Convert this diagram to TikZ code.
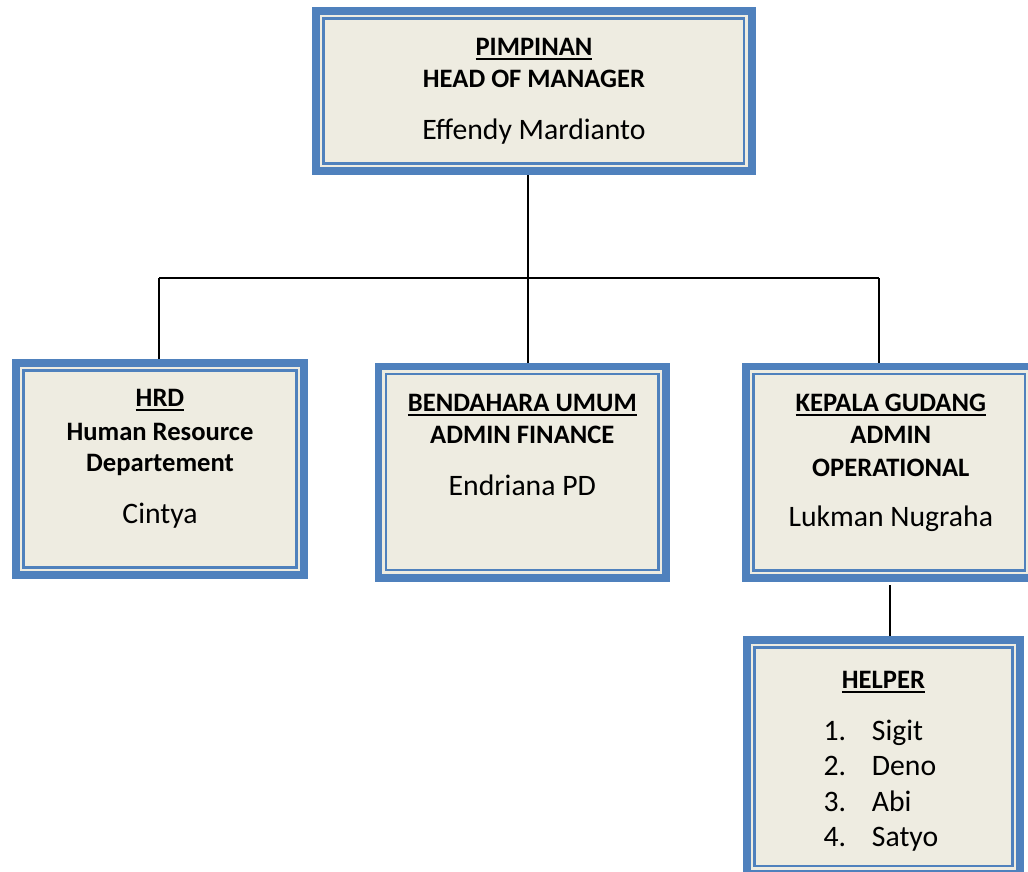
\documentclass[tikz,border=0pt]{standalone}
\usepackage{fontspec}
\setmainfont{Carlito}
\definecolor{bandblue}{HTML}{4F81BD}
\definecolor{cream}{HTML}{EEECE1}
\newcommand\ulhead[1]{\setbox0\hbox{#1}\rlap{\rule[-4.5pt]{\wd0}{2pt}}\box0}
\tikzset{
  orgbox/.style={rectangle, inner sep=0pt, outer sep=11.5pt,
    preaction={draw=bandblue, line width=23pt},
    preaction={draw=cream, line width=7.5pt},
    fill=cream, draw=bandblue, line width=2.5pt},
  hd/.style={anchor=base, inner sep=0pt, font=\fontsize{26.6}{30}\selectfont\bfseries},
  nm/.style={anchor=base, inner sep=0pt, font=\fontsize{29.7}{34}\selectfont},
  li/.style={anchor=base west, inner sep=0pt, font=\fontsize{29.7}{34}\selectfont},
  conn/.style={draw=black, line width=2pt}
}
\begin{document}
\begin{tikzpicture}[x=1pt,y=-1pt]
\useasboundingbox (0,0) rectangle (1028,872);
% boxes
\node[orgbox, minimum width=420.7pt, minimum height=145pt] (top) at (533.85,91) {};
\node[orgbox, minimum width=273pt, minimum height=197pt] (hrd) at (160,469) {};
\node[orgbox, minimum width=272.3pt, minimum height=196pt] (ben) at (522.35,472.2) {};
\node[orgbox, minimum width=271.5pt, minimum height=196.5pt] (kep) at (889.25,472.25) {};
\node[orgbox, minimum width=258pt, minimum height=218.5pt] (help) at (883.5,756.75) {};
% connectors
\coordinate (j) at (528,278);
\coordinate (hl) at (159,278);
\coordinate (hr) at (879,278);
\coordinate (hx) at (890,610);
\draw[conn] (top.south -| j) -- (j);
\draw[conn] (hl) -- (hr);
\draw[conn] (hl) -- (hrd.north -| hl);
\draw[conn] (j) -- (ben.north -| j);
\draw[conn] (hr) -- (kep.north -| hr);
\draw[conn] ([yshift=-3pt]kep.south -| hx) -- (help.north -| hx);
% texts top
\node[hd] (t1) at (534,56) {\ulhead{PIMPINAN}};
\node[hd] (t2) at (534,88) {HEAD OF MANAGER};
\node[nm] (t3) at (534,139.3) {Effendy Mardianto};
% hrd
\node[hd] (h1) at (160,406.5) {\ulhead{HRD}};
\node[hd] (h2) at (160,440) {Human Resource};
\node[hd] (h3) at (160,471.7) {Departement};
\node[nm] (h4) at (160,523.3) {Cintya};
% bendahara
\node[hd] (b1) at (522.3,411.7) {\ulhead{BENDAHARA UMUM}};
\node[hd] (b2) at (522.3,443.3) {ADMIN FINANCE};
\node[nm] (b3) at (522.3,495) {Endriana PD};
% kepala
\node[hd] (k1) at (890.8,411.7) {\ulhead{KEPALA GUDANG}};
\node[hd] (k2) at (890.8,443.3) {ADMIN};
\node[hd] (k3) at (890.8,476) {OPERATIONAL};
\node[nm] (k4) at (890.8,526) {Lukman Nugraha};
% helper
\node[hd] (p0) at (883.5,688.3) {\ulhead{HELPER}};
\node[li] (n1) at (823.3,740) {1.};
\node[li] (s1) at (871.7,740) {Sigit};
\node[li] (n2) at (823.3,775.6) {2.};
\node[li] (s2) at (871.7,775.6) {Deno};
\node[li] (n3) at (823.3,811.2) {3.};
\node[li] (s3) at (871.7,811.2) {Abi};
\node[li] (n4) at (823.3,846.8) {4.};
\node[li] (s4) at (871.7,846.8) {Satyo};
\end{tikzpicture}
\end{document}
